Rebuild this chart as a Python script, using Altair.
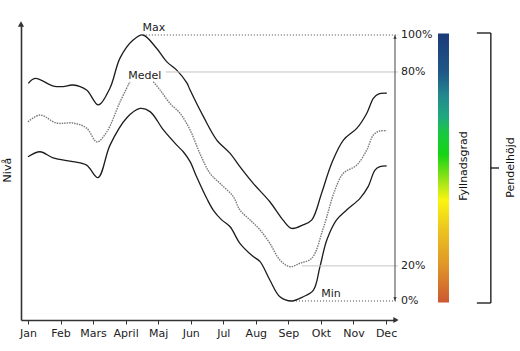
import altair as alt
import pandas as pd

# ---------------- data (month units on x, level 0..100 on y) ----------------
months = ["Jan", "Feb", "Mars", "April", "Maj", "Jun", "Jul", "Aug", "Sep", "Okt", "Nov", "Dec"]

max_x = [1.01, 1.22, 1.78, 2.08, 2.38, 2.80, 3.16, 3.52, 3.83, 4.23, 4.53, 4.95, 5.26, 5.57, 5.88,
         5.98, 6.39, 6.80, 7.21, 7.51, 7.92, 8.43, 8.83, 9.10, 9.45, 9.72, 10.02, 10.33,
         10.69, 11.10, 11.41, 11.61, 11.76, 12.02]
max_y = [81.8, 83.7, 80.8, 80.6, 81.2, 79.3, 73.7, 80.1, 91.4, 98.1, 100, 95.0, 90.0, 86.8, 82.0,
         79.3, 69.3, 60.5, 55.5, 50.5, 44.2, 37.3, 30.5, 27.3, 28.6, 30.5, 40.5, 51.8,
         60.5, 64.9, 70.6, 76.2, 77.8, 78.1]

medel1_x = [1.0, 1.37, 1.88, 2.38, 2.80, 3.12, 3.42, 3.83, 4.13]
medel1_y = [67.4, 69.9, 66.9, 66.9, 65.0, 59.8, 63.6, 74.9, 82.4]
medel2_x = [4.85, 5.06, 5.36, 5.67, 5.98, 6.28, 6.59, 6.90, 7.31, 7.51, 7.82, 8.13, 8.43, 8.74,
            9.05, 9.36, 9.72, 10.07, 10.43, 10.69, 11.10, 11.41, 11.61, 11.81, 12.02]
medel2_y = [82.4, 79.3, 74.3, 70.6, 64.3, 55.5, 48.0, 44.2, 39.2, 34.2, 30.5, 26.7, 21.7, 15.4,
            12.9, 14.2, 16.1, 27.3, 41.7, 48.0, 51.1, 56.8, 62.4, 63.9, 64.0]

min_x = [1.0, 1.37, 1.77, 2.38, 2.80, 3.15, 3.52, 4.03, 4.44, 4.75, 5.16, 5.57, 5.77, 5.98, 6.18,
         6.49, 6.69, 6.95, 7.21, 7.51, 7.92, 8.13, 8.43, 8.74, 9.10, 9.46, 9.77, 9.97, 10.18,
         10.48, 10.79, 11.20, 11.45, 11.66, 11.81, 12.02]
min_y = [54.2, 56.1, 53.8, 52.4, 51.1, 46.4, 58.6, 68.8, 72.4, 71.2, 64.3, 58.6, 56.1, 52.4, 46.7,
         38.6, 34.2, 30.5, 27.9, 21.7, 16.7, 14.8, 7.9, 1.6, 0.0, 1.6, 4.1, 12.9, 22.9,
         30.5, 34.2, 38.6, 43.0, 49.2, 50.5, 50.8]

pct_labels = ["100%", "80%", "20%", "0%"]
pct_levels = [100, 86.1, 13.2, 0]

curve_labels = ["Max", "Medel", "Min"]

# ---------------- layout in scale units ----------------
XDOM = [0.785, 12.306]
YDOM = [-7.143, 104.135]
FONT = "DejaVu Sans"

xs = alt.Scale(domain=XDOM, nice=False, zero=False)
ys = alt.Scale(domain=YDOM, nice=False, zero=False)

x_axis = alt.Axis(values=list(range(1, 13)), labelExpr=f"{months}[datum.value - 1]", title=None,
                  grid=False, domainColor="#333", domainWidth=1.6, tickColor="#333", tickSize=4,
                  labelFont=FONT, labelFontSize=11, labelColor="#222", labelPadding=3,
                  labelFlush=False, labelOverlap=False)
y_axis = alt.Axis(labels=False, ticks=False, grid=False, title=None, domainColor="#333",
                  domainWidth=1.6)


def X(f):
    return alt.X(f"{f}:Q", scale=xs, axis=x_axis, title=None)


def Y(f):
    return alt.Y(f"{f}:Q", scale=ys, axis=y_axis, title=None)


rows = []
for s, seg, xx, yy in [("Max", "a", max_x, max_y), ("Min", "b", min_x, min_y),
                       ("Medel", "c", medel1_x, medel1_y), ("Medel", "d", medel2_x, medel2_y)]:
    for i, (a, b) in enumerate(zip(xx, yy)):
        rows.append({"series": s, "seg": seg, "x": a, "y": b, "i": i})
curves = pd.DataFrame(rows)

solid = alt.Chart(curves).transform_filter("datum.series != 'Medel'").mark_line(
    interpolate="catmull-rom", color="#1c1c1c", strokeWidth=1.3, clip=False
).encode(x=X("x"), y=Y("y"), detail="seg:N", order="i:Q")

medel = alt.Chart(curves).transform_filter("datum.series == 'Medel'").mark_line(
    interpolate="catmull-rom", color="#7a7a7a", strokeWidth=1.4, strokeDash=[1.5, 1], clip=False
).encode(x=X("x"), y=Y("y"), detail="seg:N", order="i:Q")

# reference lines
dotted_df = pd.DataFrame({"x1": [4.62, 9.14], "x2": [12.37, 12.37], "y": [pct_levels[0], pct_levels[3]]})
light_df = pd.DataFrame({"x1": [5.23, 9.41], "x2": [12.36, 12.36], "y": [pct_levels[1], pct_levels[2]]})
dotted = alt.Chart(dotted_df).mark_rule(color="#444", strokeDash=[1, 2], strokeWidth=1, clip=False).encode(
    x=X("x1"), x2="x2:Q", y=Y("y"))
light = alt.Chart(light_df).mark_rule(color="#c4c4c4", strokeWidth=1, clip=False).encode(
    x=X("x1"), x2="x2:Q", y=Y("y"))

# right double arrow
varrow_df = pd.DataFrame({"x": [12.275], "y1": [0], "y2": [100]})
varrow = alt.Chart(varrow_df).mark_rule(color="#444", strokeWidth=1, clip=False).encode(
    x=X("x"), y=Y("y1"), y2="y2:Q")

heads_df = pd.DataFrame({
    "x": [XDOM[0], XDOM[1], 12.275, 12.275],
    "y": [YDOM[1], YDOM[0], 99.2, 0.8],
    "shape": ["triangle-up", "triangle-right", "triangle-up", "triangle-down"],
    "size": [38, 38, 12, 12],
})
heads = alt.Chart(heads_df).mark_point(filled=True, color="#333", opacity=1, clip=False).encode(
    x=X("x"), y=Y("y"), shape=alt.Shape("shape:N", scale=None), size=alt.Size("size:Q", scale=None))

# colour bar
grad = alt.Gradient(
    gradient="linear", x1=0, x2=0, y1=0, y2=1,
    stops=[
        alt.GradientStop(offset=0.0, color="#1b3a7a"),
        alt.GradientStop(offset=0.15, color="#1f5a88"),
        alt.GradientStop(offset=0.23, color="#23888e"),
        alt.GradientStop(offset=0.31, color="#20a880"),
        alt.GradientStop(offset=0.37, color="#18c840"),
        alt.GradientStop(offset=0.45, color="#14d414"),
        alt.GradientStop(offset=0.55, color="#a0e418"),
        alt.GradientStop(offset=0.62, color="#fbf510"),
        alt.GradientStop(offset=0.73, color="#ecc420"),
        alt.GradientStop(offset=0.86, color="#e09628"),
        alt.GradientStop(offset=1.0, color="#cc5832"),
    ],
)
cbar_df = pd.DataFrame({"x1": [13.596], "x2": [13.934], "y1": [-0.56], "y2": [100.6]})
cbar = alt.Chart(cbar_df).mark_rect(fill=grad, clip=False).encode(
    x=X("x1"), x2="x2:Q", y=Y("y1"), y2="y2:Q")

# bracket
br_df = pd.DataFrame({
    "x1": [15.22, 14.79, 14.79, 15.22],
    "x2": [15.22, 15.22, 15.22, 15.47],
    "y1": [-0.75, 100.75, -0.75, 50.0],
    "y2": [100.75, 100.75, -0.75, 50.0],
})
bracket = alt.Chart(br_df).mark_rule(color="#111", strokeWidth=1.3, clip=False).encode(
    x=X("x1"), x2="x2:Q", y=Y("y1"), y2="y2:Q")

# texts
pct_df = pd.DataFrame({"t": pct_labels, "x": [12.46] * 4, "y": pct_levels})
pct_text = alt.Chart(pct_df).mark_text(align="left", baseline="middle", font=FONT, fontSize=11,
                                       color="#222", clip=False).encode(x=X("x"), y=Y("y"), text="t:N")

cl_df = pd.DataFrame({"t": curve_labels, "x": [4.87, 4.59, 10.31], "y": [102.8, 84.6, 2.7]})
cl_text = alt.Chart(cl_df).mark_text(align="center", baseline="middle", font=FONT, fontSize=11,
                                     color="#222", clip=False).encode(x=X("x"), y=Y("y"), text="t:N")

rot_df = pd.DataFrame({"t": ["Nivå", "Fyllnadsgrad", "Pendelhöjd"],
                       "x": [0.386, 14.39, 15.84], "y": [49.2, 50.75, 50.2]})
rot_text = alt.Chart(rot_df).mark_text(align="center", baseline="middle", angle=270, font=FONT,
                                       fontSize=11, color="#111", clip=False).encode(
    x=X("x"), y=Y("y"), text="t:N")

chart = alt.layer(
    solid, light, dotted, medel, varrow, heads, cbar, bracket, pct_text, cl_text, rot_text
).properties(
    width=375, height=296,
    padding={"left": 21, "top": 24, "right": 124, "bottom": 31},
    autosize="none", background="white",
).configure_view(stroke=None)

chart.save("out.html", embed_options={"renderer": "svg", "actions": False})
